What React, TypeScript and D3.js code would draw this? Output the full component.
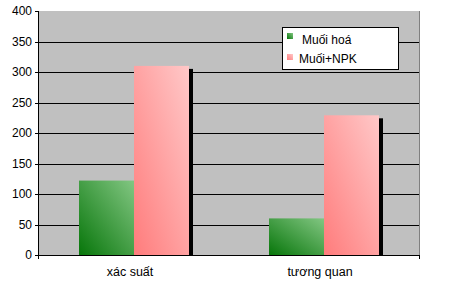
import React from "react";
import * as d3 from "d3";

const categories = ["xác suất", "tương quan"];
const seriesNames = ["Muối hoá", "Muối+NPK"];
const seriesValues = [
  [122, 60],
  [310, 229],
];
const yTicks = [0, 50, 100, 150, 200, 250, 300, 350, 400];

const W = 470;
const H = 285;
const L = 39, R = 419, T = 11, B = 255;

export default function App() {
  const y = d3.scaleLinear().domain([0, 400]).range([B, T]);
  const x0 = d3.scaleBand().domain(categories).range([L, R]).paddingInner(0).paddingOuter(0);
  const groupW = 110;
  const x1 = d3.scaleBand().domain(seriesNames).range([0, groupW]).padding(0);
  const grads = [
    { id: "gGreen", c0: "#07760a", c1: "#82c682" },
    { id: "gPink", c0: "#ff7c7c", c1: "#ffc8c8" },
  ];
  const font = "'Liberation Sans', Arial, sans-serif";
  return (
    <svg width={W} height={H} style={{ position: "absolute", left: 0, top: 0, background: "#fff" }}>
      <defs>
        {grads.map((g) => (
          <linearGradient key={g.id} id={g.id} x1="0" y1="1" x2="1" y2="0">
            <stop offset="0" stopColor={g.c0} />
            <stop offset="1" stopColor={g.c1} />
          </linearGradient>
        ))}
      </defs>
      <rect x={L} y={T} width={R - L} height={B - T} fill="#c0c0c0" />
      {yTicks.filter((t) => t !== 0 && t !== 400).map((t) => (
        <line key={t} x1={L} x2={R} y1={Math.round(y(t)) + 0.5} y2={Math.round(y(t)) + 0.5} stroke="#000" />
      ))}
      {categories.map((c, ci) => {
        const gx = x0(c)! + (x0.bandwidth() - groupW) / 2;
        return seriesNames.map((s, si) => {
          const v = seriesValues[si][ci];
          return (
            <rect key={"sh" + c + s} x={gx + x1(s)! + 4} y={y(v) + 3} width={x1.bandwidth()} height={B - y(v) - 3} fill="#000" />
          );
        });
      })}
      {categories.map((c, ci) => {
        const gx = x0(c)! + (x0.bandwidth() - groupW) / 2;
        return seriesNames.map((s, si) => {
          const v = seriesValues[si][ci];
          return (
            <rect key={c + s} x={gx + x1(s)!} y={y(v)} width={x1.bandwidth()} height={B - y(v)} fill={`url(#${grads[si].id})`} />
          );
        });
      })}
      <line x1={R + 0.5} x2={R + 0.5} y1={T} y2={B} stroke="#808080" />
      <line x1={L - 0.5} x2={L - 0.5} y1={T} y2={B + 4} stroke="#000" />
      <line x1={L - 4} x2={R + 1} y1={B + 0.5} y2={B + 0.5} stroke="#000" />
      <line x1={R + 0.5} x2={R + 0.5} y1={B} y2={B + 4} stroke="#000" />
      {yTicks.map((t) => (
        <g key={"t" + t}>
          <line x1={L - 4} x2={L} y1={Math.round(y(t)) + 0.5} y2={Math.round(y(t)) + 0.5} stroke="#000" />
          <text x={L - 7} y={y(t) + 4} textAnchor="end" fontFamily={font} fontSize={12} fill="#000">
            {t}
          </text>
        </g>
      ))}
      {categories.map((c) => (
        <text key={"c" + c} x={x0(c)! + x0.bandwidth() / 2 - 4} y={276} textAnchor="middle" fontFamily={font} fontSize={12.5} fill="#000">
          {c}
        </text>
      ))}
      <rect x={282.5} y={27.5} width={116} height={42} fill="#fff" stroke="#000" />
      {seriesNames.map((s, i) => (
        <g key={"l" + s}>
          <rect x={287} y={33 + i * 21} width={6} height={6} fill={`url(#${grads[i].id})`} />
          <text x={i === 0 ? 302 : 299} y={44 + i * 19} fontFamily={font} fontSize={12} fill="#000">
            {s}
          </text>
        </g>
      ))}
    </svg>
  );
}
